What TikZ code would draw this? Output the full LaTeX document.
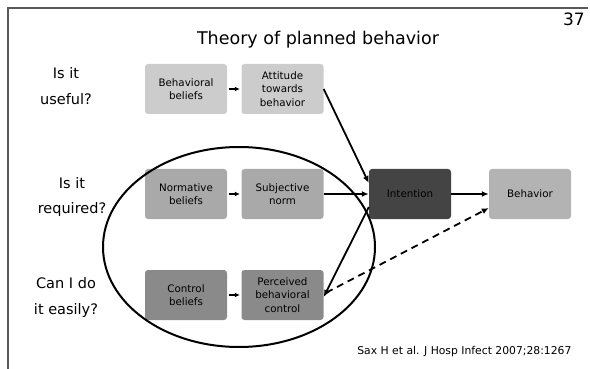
\documentclass[tikz,border=0pt]{standalone}
\usepackage{fontspec}
\setmainfont{DejaVu Sans}
\usetikzlibrary{arrows.meta}
\definecolor{rowone}{HTML}{CCCCCC}
\definecolor{rowtwo}{HTML}{A9A9A9}
\definecolor{rowthree}{HTML}{8A8A8A}
\definecolor{intcol}{HTML}{444444}
\definecolor{behcol}{HTML}{B3B3B3}
\begin{document}
\begin{tikzpicture}[x=1pt, y=-1pt,
    box/.style={rectangle, rounded corners=3pt, minimum width=82pt, minimum height=50pt,
                inner sep=0pt, align=center, text=black,
                font=\fontsize{10.3}{13.5}\selectfont},
    question/.style={align=center, font=\fontsize{14.5}{26}\selectfont},
    arr/.style={-{Latex[length=7pt, width=6pt]}, line width=1.8pt},
    shortarr/.style={-{Latex[length=5pt, width=5pt]}, line width=1.8pt, shorten <=1.5pt, shorten >=1.5pt}]
    \useasboundingbox (0,0) rectangle (590,369);
    \draw[black!65, line width=1.5pt] (8,369) -- (8,8) -- (588,8);
    \node (page) at (574,19) {\fontsize{17}{17}\selectfont 37};
    \node (title) at (318,40) {\fontsize{17.5}{17.5}\selectfont Theory of planned behavior};

    % questions
    \node[question] (q1) at (66,86) {Is it\\useful?};
    \node[question] (q2) at (72,197) {Is it\\required?};
    \node[question] (q3) at (66,297) {Can I do\\it easily?};

    % boxes
    \node[box, fill=rowone] (behbel) at (186,89) {Behavioral\\beliefs};
    \node[box, fill=rowone] (att) at (282.5,89) {Attitude\\towards\\behavior};
    \node[box, fill=rowtwo] (norbel) at (186,194) {Normative\\beliefs};
    \node[box, fill=rowtwo] (subj) at (282.5,194) {Subjective\\norm};
    \node[box, fill=rowthree] (conbel) at (186,295) {Control\\beliefs};
    \node[box, fill=rowthree] (perc) at (282.5,295) {Perceived\\behavioral\\control};
    \node[box, fill=intcol] (int) at (410,194) {Intention};
    \node[box, fill=behcol] (beh) at (530,194) {Behavior};

    \draw[line width=2pt] (239,247) ellipse [x radius=136pt, y radius=100pt];

    % connectors
    \draw[shortarr] (behbel) -- (att);
    \draw[shortarr] (norbel) -- (subj);
    \draw[shortarr] (conbel) -- (perc);
    \draw[arr] (att.east) -- ([yshift=11pt]int.west);
    \draw[arr] (subj) -- (int);
    \draw[arr] ([yshift=-13pt]int.west) -- ([yshift=-2pt]perc.east);
    \draw[arr] (int) -- (beh);
    \draw[arr, dash pattern=on 7pt off 5pt, shorten <=3pt] ([yshift=1pt]perc.east) -- ([yshift=-14pt]beh.west);

    \node[anchor=east] (cite) at (575,352) {\fontsize{10.8}{10.8}\selectfont Sax H et al. J Hosp Infect 2007;28:1267};
\end{tikzpicture}
\end{document}
